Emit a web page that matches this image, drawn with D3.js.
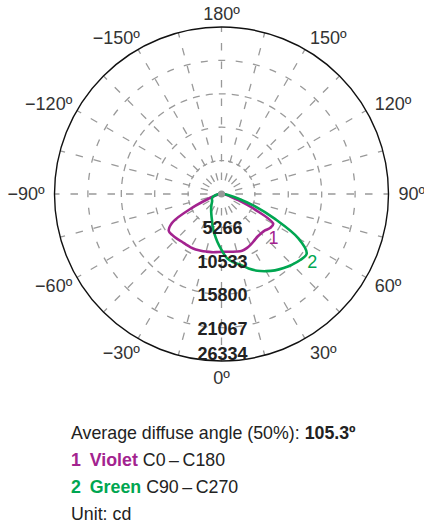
<!DOCTYPE html>
<html>
<head>
<meta charset="utf-8">
<script src="https://cdn.jsdelivr.net/npm/d3@7"></script>
<style>
  body { margin: 0; background: #fff; }
  svg { display: block; font-family: "Liberation Sans", Arial, sans-serif; }
</style>
</head>
<body>
<svg id="chart" width="424" height="527"></svg>
<script>
// gamma angles, 0 = straight down, positive to the right
var gammas = d3.range(-180, 181, 5)

// C0-C180 plane (violet), cd
var violet = [80, 80, 80, 80, 80, 90, 100, 110, 120, 130, 140, 160, 180, 200, 230, 260, 300, 350, 420, 520, 700, 1100, 2200, 5000, 8900,
  10150, 10100, 9950, 9780, 9730, 9720, 9650, 9520, 9400, 9310, 9200, 9120,
  9150, 9250, 9400, 9520, 9420, 9220, 8980, 8800, 8800, 8950, 9350, 9420, 5900, 2700, 1300, 750, 520,
  400, 330, 280, 240, 200, 180, 160, 140, 130, 120, 110, 100, 90, 80, 80, 80, 80, 80, 80]

// C90-C270 plane (green), cd
var green = [50, 50, 60, 60, 70, 80, 90, 100, 110, 120, 130, 140, 150, 180, 220, 280, 330, 390, 450, 650, 900, 1200, 1500, 1650, 1750,
  1800, 1950, 2200, 2500, 2850, 3250, 3750, 4400, 5350, 6400, 7550, 8800,
  10200, 10950, 11550, 12500, 13350, 14050, 14700, 15250, 15750, 16200, 16400, 14000, 9300, 5500, 2700, 1300, 700,
  450, 380, 320, 270, 230, 200, 170, 150, 130, 120, 110, 100, 90, 80, 70, 60, 60, 50, 50]

var radialTicks = [5266, 10533, 15800, 21067, 26334]
var angleTicks = [0, 30, 60, 90, 120, 150, 180, -150, -120, -90, -60, -30]

var series = [
  {id: "1", values: violet, color: "#a3238f", labelAt: 50, labelValue: 10700},
  {id: "2", values: green, color: "#00a651", labelAt: 53, labelValue: 17900}
]

var legendLines = [
  [{t: "Average diffuse angle (50%): ", w: 400}, {t: "105.3º", w: 700}],
  [{t: "1\u2002", w: 700, c: "#a3238f"}, {t: "Violet ", w: 700, c: "#a3238f"}, {t: "C0\u2009–\u2009C180", w: 400}],
  [{t: "2\u2002", w: 700, c: "#00a651"}, {t: "Green ", w: 700, c: "#00a651"}, {t: "C90\u2009–\u2009C270", w: 400}],
  [{t: "Unit: cd", w: 400}]
]

var cx = 221.5, cy = 194, R = 167
var svg = d3.select("#chart")
var g = svg.append("g").attr("transform", "translate(" + cx + "," + cy + ")")

var r = d3.scaleLinear().domain([0, 26334]).range([0, R])
var rad = d => d * Math.PI / 180

// dashed rings, dash centred on each spoke
radialTicks.slice(0, -1).forEach(function(v) {
  var rr = r(v)
  var arc = rr * Math.PI / 12
  var n = Math.max(1, Math.round(arc / 16))
  var P = arc / n
  var dash = Math.min(7, P * 0.55)
  g.append("circle")
    .attr("r", rr)
    .attr("fill", "none")
    .attr("stroke", "#999")
    .attr("stroke-width", 1.3)
    .attr("stroke-dasharray", dash + "," + (P - dash))
    .attr("stroke-dashoffset", dash / 2)
})

// dashed spokes every 15 degrees
g.append("g").selectAll("line")
  .data(d3.range(0, 360, 15))
  .join("line")
  .attr("x1", 0).attr("y1", 0)
  .attr("x2", d => R * Math.sin(rad(d)))
  .attr("y2", d => R * Math.cos(rad(d)))
  .attr("stroke", "#999")
  .attr("stroke-width", 1.3)
  .attr("stroke-dasharray", "7.5,11")
  .attr("stroke-dashoffset", 4.5)

// outer circle
g.append("circle")
  .attr("r", R)
  .attr("fill", "none")
  .attr("stroke", "#111")
  .attr("stroke-width", 1.4)

// angle labels
g.append("g").selectAll("text")
  .data(angleTicks)
  .join("text")
  .attr("x", function(d) {
    var s = Math.sin(rad(d)), c = Math.cos(rad(d))
    var x = (R + 10) * s
    if (s < -0.01) x += 8 * Math.abs(c)
    return Math.abs(s) < 0.01 ? 0 : x
  })
  .attr("y", function(d) {
    var c = Math.cos(rad(d))
    return (R + 10) * c + (c > 0 ? 7 : 3.5) * c
  })
  .attr("text-anchor", function(d) {
    var s = Math.sin(rad(d))
    return Math.abs(s) < 0.01 ? "middle" : (s > 0 ? "start" : "end")
  })
  .attr("dominant-baseline", "central")
  .attr("font-size", 18)
  .attr("fill", "#333")
  .text(d => (d < 0 ? "−" + (-d) : d) + "º")

// curves
var line = d3.lineRadial()
  .angle(d => Math.PI - rad(d[0]))
  .radius(d => r(d[1]))
  .curve(d3.curveCatmullRomClosed.alpha(0.5))

series.forEach(function(s) {
  var pts = gammas.slice(0, -1).map((a, i) => [a, s.values[i]])
  g.append("path")
    .attr("d", line(pts))
    .attr("fill", "none")
    .attr("stroke", s.color)
    .attr("stroke-width", 2.6)
    .attr("stroke-linejoin", "round")
})

// centre dot
g.append("circle").attr("r", 3.5).attr("fill", "#999")

// radial value labels
g.append("g").selectAll("text")
  .data(radialTicks)
  .join("text")
  .attr("x", 1)
  .attr("y", d => Math.min(r(d), R - 8) + 1)
  .attr("text-anchor", "middle")
  .attr("dominant-baseline", "central")
  .attr("font-size", 18)
  .attr("font-weight", 700)
  .attr("fill", "#222")
  .text(d => d)

// curve ids
g.append("g").selectAll("text")
  .data(series)
  .join("text")
  .attr("x", d => r(d.labelValue) * Math.sin(rad(d.labelAt)))
  .attr("y", d => r(d.labelValue) * Math.cos(rad(d.labelAt)))
  .attr("text-anchor", "middle")
  .attr("dominant-baseline", "central")
  .attr("font-size", 18)
  .attr("fill", d => d.color)
  .text(d => d.id)

// legend below
var legend = svg.append("g").attr("transform", "translate(71,439)")
legendLines.forEach(function(parts, i) {
  var t = legend.append("text")
    .attr("y", i * 27)
    .attr("font-size", 17.8)
    .attr("fill", "#222")
  parts.forEach(function(p) {
    t.append("tspan")
      .attr("font-weight", p.w)
      .attr("fill", p.c || "#222")
      .text(p.t)
  })
})
</script>
</body>
</html>
